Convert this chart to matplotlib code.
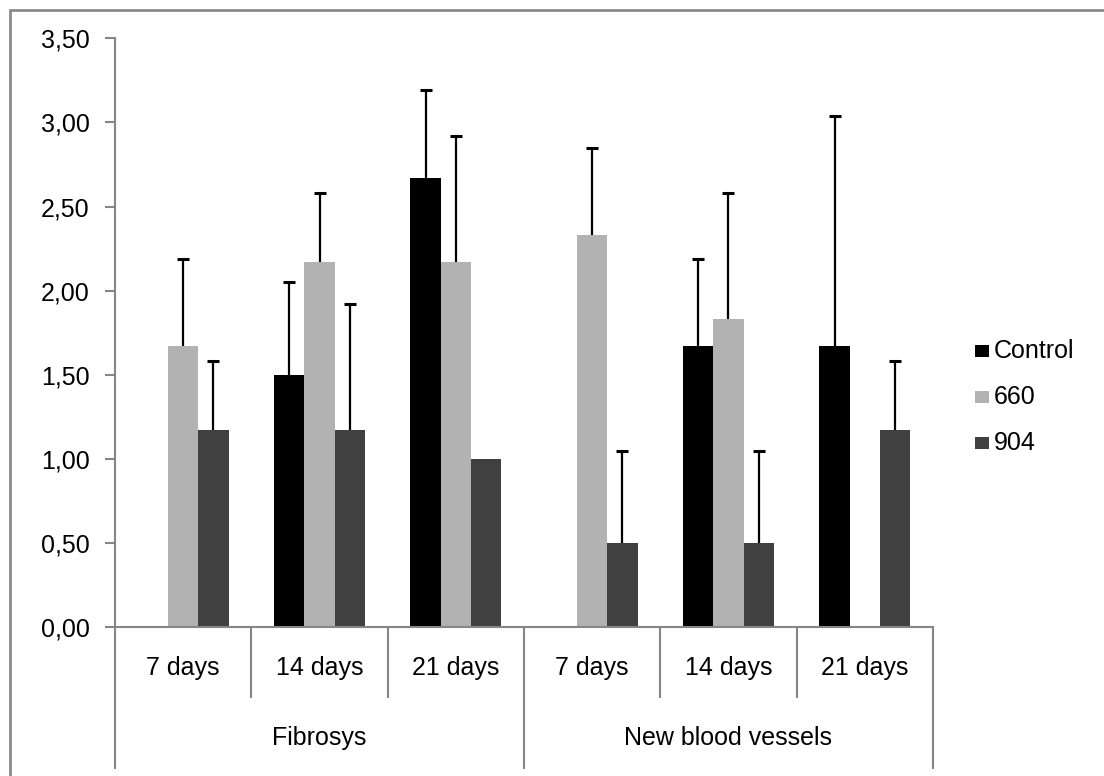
#!/usr/bin/env python3
# -*- coding: utf-8 -*-
"""Fibrosis and new blood vessel scores by laser group, grouped bars with SD."""

import matplotlib as mpl
import matplotlib.pyplot as plt
import matplotlib.transforms as mtransforms
import numpy as np
from matplotlib.patches import Rectangle


# =======================
# Global style
# =======================
mpl.rcParams["font.family"] = ["Liberation Sans", "DejaVu Sans"]
mpl.rcParams["axes.unicode_minus"] = False


# =======================
# Data
# =======================
GROUPS = ["Fibrosys", "New blood vessels"]
DAYS = ["7 days", "14 days", "21 days", "7 days", "14 days", "21 days"]
SERIES = ["Control", "660", "904"]

CONTROL = [0.00, 1.50, 2.67, 0.00, 1.67, 1.67]
S660 = [1.67, 2.17, 2.17, 2.33, 1.83, 0.00]
S904 = [1.17, 1.17, 1.00, 0.50, 0.50, 1.17]

ERR_CONTROL = [0.00, 0.55, 0.52, 0.00, 0.52, 1.37]
ERR_660 = [0.52, 0.41, 0.75, 0.52, 0.75, 0.00]
ERR_904 = [0.41, 0.75, 0.00, 0.55, 0.55, 0.41]

Y_TICKS = [0.0, 0.5, 1.0, 1.5, 2.0, 2.5, 3.0, 3.5]


# =======================
# Parameters
# =======================
W_PX, H_PX = 1104, 776
DPI = 100
COLORS = ["#000000", "#b2b2b2", "#404040"]
AXIS_GRAY = "#868686"
BAR_W = 1.0 / 4.5  # excel gap width 150 %
FS = 18


def main():
    fig = plt.figure(figsize=(W_PX / DPI, H_PX / DPI), dpi=DPI)
    ax = fig.add_axes([115 / W_PX, 1 - 627.3 / H_PX, (933 - 115) / W_PX, (627.3 - 38.3) / H_PX])

    x = np.arange(len(DAYS))
    values = [CONTROL, S660, S904]
    errors = [ERR_CONTROL, ERR_660, ERR_904]

    for i, (vals, errs, col) in enumerate(zip(values, errors, COLORS)):
        vals = np.asarray(vals, dtype=float)
        errs = np.asarray(errs, dtype=float)
        xpos = x + (i - 1) * BAR_W
        ax.bar(xpos, vals, width=BAR_W, color=col, linewidth=0, zorder=2)
        m = errs > 0
        _, caps, _ = ax.errorbar(
            xpos[m], vals[m],
            yerr=[np.zeros(m.sum()), errs[m]],
            fmt="none", ecolor="black", elinewidth=1.6,
            capsize=4.3, capthick=2.2, zorder=3,
        )
        # only the upper cap, as in excel "plus" error bars
        caps[0].set_visible(False)

    ax.set_xlim(-0.5, len(DAYS) - 0.5)
    ax.set_ylim(0, 3.5)
    ax.set_yticks(Y_TICKS)
    ax.set_yticklabels([f"{v:.2f}".replace(".", ",") for v in Y_TICKS], fontsize=FS)
    ax.tick_params(axis="y", direction="out", length=7.2, width=1.5, color=AXIS_GRAY, pad=11)
    ax.set_xticks([])

    for s in ["top", "right"]:
        ax.spines[s].set_visible(False)
    for s in ["left", "bottom"]:
        ax.spines[s].set_color(AXIS_GRAY)
        ax.spines[s].set_linewidth(1.5)

    # multi-level category axis
    trans = mtransforms.blended_transform_factory(ax.transData, fig.transFigure)
    y_axis = 1 - 627.3 / H_PX
    y_day_end = 1 - 698 / H_PX
    y_grp_end = 1 - 769 / H_PX
    for b in np.arange(-0.5, len(DAYS), 1.0):
        is_group = (b + 0.5) % 3 == 0
        ax.plot([b, b], [y_axis, y_grp_end if is_group else y_day_end], transform=trans,
                color=AXIS_GRAY, lw=1.5, clip_on=False, solid_capstyle="butt")
    for xi, lab in zip(x, DAYS):
        ax.text(xi, 1 - 668 / H_PX, lab, transform=trans, ha="center", va="center", fontsize=FS)
    for g, lab in enumerate(GROUPS):
        ax.text(g * 3 + 1, 1 - 738 / H_PX, lab, transform=trans, ha="center", va="center", fontsize=FS)

    # legend
    for lab, col, yc in zip(SERIES, COLORS, [351, 397, 443]):
        fig.add_artist(Rectangle((975 / W_PX, 1 - (yc + 6) / H_PX), 14 / W_PX, 12 / H_PX,
                                 transform=fig.transFigure, color=col, lw=0))
        fig.text(994 / W_PX, 1 - yc / H_PX, lab, ha="left", va="center", fontsize=FS)

    # outer chart border (runs off right / bottom edges)
    fig.add_artist(Rectangle((10 / W_PX, -0.05), 1.2, 1 - 10 / H_PX + 0.05,
                             transform=fig.transFigure, fill=False, edgecolor=AXIS_GRAY, lw=1.9))

    fig.savefig("out.png", dpi=DPI, facecolor="white")


if __name__ == "__main__":
    main()
